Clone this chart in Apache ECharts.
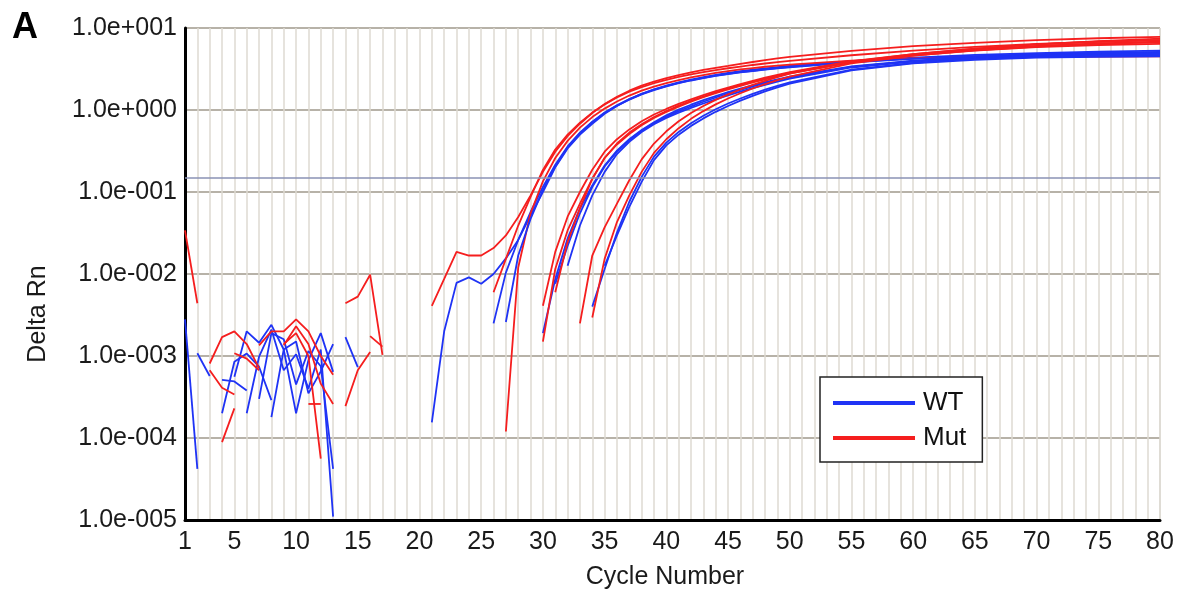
<!DOCTYPE html>
<html lang="en">
<head>
<meta charset="UTF-8">
<title>Amplification plot</title>
<script src="https://cdn.jsdelivr.net/npm/echarts@6/dist/echarts.min.js"></script>
<style>
  html, body { margin: 0; padding: 0; background: #fff; }
  #main { width: 1185px; height: 597px; }
</style>
</head>
<body>
<div id="main"></div>
<script>
// tick labels
var xTickLabels = [1, 5, 10, 15, 20, 25, 30, 35, 40, 45, 50, 55, 60, 65, 70, 75, 80];
var yTickLabels = ['1.0e-005', '1.0e-004', '1.0e-003', '1.0e-002', '1.0e-001', '1.0e+000', '1.0e+001'];
var threshold = 0.148;

// WT amplification curves [cycle, delta Rn]
var wtA1 = [[21,0.000155],[22,0.002],[23,0.0078],[24,0.0091],[25,0.0076],[26,0.010],[27,0.0155],[28,0.026],[29,0.052],[30,0.10],[31,0.2],[32,0.34],[33,0.5],[34,0.68],[35,0.9],[36,1.12],[37,1.35],[38,1.57],[39,1.78],[40,1.98],[41,2.17],[42,2.35],[43,2.52],[44,2.68],[45,2.83],[46,2.97],[47,3.1],[48,3.22],[49,3.34],[50,3.45],[55,3.95],[60,4.35],[65,4.7],[70,4.95],[75,5.15],[80,5.3]];
var wtA2 = [[26,0.0025],[27,0.0104],[28,0.026],[29,0.057],[30,0.115],[31,0.215],[32,0.36],[33,0.53],[34,0.72],[35,0.93],[36,1.14],[37,1.36],[38,1.57],[39,1.77],[40,1.96],[41,2.14],[42,2.31],[43,2.47],[44,2.62],[45,2.76],[46,2.89],[47,3.01],[48,3.13],[49,3.24],[50,3.35],[55,3.85],[60,4.25],[65,4.55],[70,4.8],[75,5.0],[80,5.1]];
var wtA3 = [[27,0.0026],[28,0.0168],[29,0.047],[30,0.105],[31,0.205],[32,0.35],[33,0.52],[34,0.71],[35,0.92],[36,1.13],[37,1.34],[38,1.55],[39,1.75],[40,1.94],[41,2.12],[42,2.29],[43,2.45],[44,2.6],[45,2.74],[46,2.87],[47,2.99],[48,3.11],[49,3.22],[50,3.32],[55,3.8],[60,4.2],[65,4.5],[70,4.72],[75,4.9],[80,5.0]];
var wtB1 = [[30,0.0019],[31,0.0087],[32,0.027],[33,0.063],[34,0.12],[35,0.21],[36,0.32],[37,0.44],[38,0.57],[39,0.71],[40,0.86],[41,1.01],[42,1.16],[43,1.32],[44,1.48],[45,1.65],[46,1.82],[47,2.0],[48,2.18],[49,2.37],[50,2.56],[55,3.4],[60,4.0],[65,4.4],[70,4.65],[75,4.8],[80,4.9]];
var wtB2 = [[31,0.0076],[32,0.022],[33,0.055],[34,0.115],[35,0.205],[36,0.31],[37,0.43],[38,0.56],[39,0.69],[40,0.83],[41,0.97],[42,1.11],[43,1.26],[44,1.42],[45,1.59],[46,1.76],[47,1.94],[48,2.12],[49,2.31],[50,2.5],[55,3.35],[60,3.95],[65,4.35],[70,4.6],[75,4.75],[80,4.85]];
var wtB3 = [[32,0.0126],[33,0.039],[34,0.091],[35,0.176],[36,0.29],[37,0.41],[38,0.54],[39,0.67],[40,0.8],[41,0.93],[42,1.06],[43,1.2],[44,1.35],[45,1.51],[46,1.68],[47,1.85],[48,2.03],[49,2.22],[50,2.42],[55,3.3],[60,3.9],[65,4.3],[70,4.55],[75,4.7],[80,4.8]];
var wtC1 = [[34,0.004],[35,0.0115],[36,0.032],[37,0.076],[38,0.153],[39,0.27],[40,0.4],[41,0.54],[42,0.69],[43,0.85],[44,1.02],[45,1.2],[46,1.38],[47,1.57],[48,1.77],[49,1.97],[50,2.17],[55,3.1],[60,3.75],[65,4.2],[70,4.45],[75,4.6],[80,4.65]];
var wtC2 = [[35,0.0126],[36,0.0295],[37,0.066],[38,0.133],[39,0.245],[40,0.37],[41,0.5],[42,0.64],[43,0.79],[44,0.95],[45,1.12],[46,1.3],[47,1.49],[48,1.69],[49,1.89],[50,2.1],[55,3.05],[60,3.7],[65,4.1],[70,4.35],[75,4.45],[80,4.5]];

// Mut amplification curves
var mutA1 = [[21,0.0041],[22,0.0087],[23,0.0186],[24,0.0168],[25,0.0168],[26,0.0207],[27,0.0295],[28,0.0495],[29,0.091],[30,0.176],[31,0.31],[32,0.48],[33,0.68],[34,0.92],[35,1.18],[36,1.45],[37,1.72],[38,1.98],[39,2.22],[40,2.45],[41,2.67],[42,2.88],[43,3.08],[44,3.27],[45,3.45],[46,3.65],[47,3.85],[48,4.05],[49,4.25],[50,4.45],[55,5.25],[60,6.0],[65,6.6],[70,7.1],[75,7.5],[80,7.8]];
var mutA2 = [[26,0.006],[27,0.0153],[28,0.039],[29,0.087],[30,0.186],[31,0.33],[32,0.5],[33,0.7],[34,0.93],[35,1.17],[36,1.42],[37,1.67],[38,1.9],[39,2.12],[40,2.33],[41,2.53],[42,2.72],[43,2.9],[44,3.07],[45,3.23],[46,3.39],[47,3.54],[48,3.69],[49,3.83],[50,3.97],[55,4.65],[60,5.3],[65,5.9],[70,6.4],[75,6.8],[80,7.1]];
var mutA3 = [[27,0.00012],[28,0.012],[29,0.055],[30,0.135],[31,0.26],[32,0.42],[33,0.61],[34,0.82],[35,1.04],[36,1.27],[37,1.5],[38,1.72],[39,1.93],[40,2.13],[41,2.32],[42,2.5],[43,2.67],[44,2.83],[45,2.98],[46,3.12],[47,3.25],[48,3.37],[49,3.48],[50,3.58],[55,4.0],[60,4.25],[65,4.38],[70,4.44],[75,4.47],[80,4.5]];
var mutB1 = [[30,0.0041],[31,0.0186],[32,0.05],[33,0.1],[34,0.187],[35,0.31],[36,0.44],[37,0.58],[38,0.73],[39,0.88],[40,1.03],[41,1.19],[42,1.35],[43,1.52],[44,1.7],[45,1.88],[46,2.07],[47,2.27],[48,2.48],[49,2.69],[50,2.9],[55,3.95],[60,4.8],[65,5.6],[70,6.3],[75,6.9],[80,7.4]];
var mutB2 = [[30,0.0015],[31,0.0115],[32,0.034],[33,0.072],[34,0.145],[35,0.26],[36,0.39],[37,0.53],[38,0.67],[39,0.82],[40,0.97],[41,1.13],[42,1.29],[43,1.46],[44,1.64],[45,1.82],[46,2.01],[47,2.21],[48,2.41],[49,2.62],[50,2.83],[55,3.85],[60,4.7],[65,5.45],[70,6.05],[75,6.5],[80,6.8]];
var mutB3 = [[31,0.006],[32,0.0245],[33,0.063],[34,0.145],[35,0.26],[36,0.38],[37,0.51],[38,0.65],[39,0.8],[40,0.95],[41,1.1],[42,1.26],[43,1.43],[44,1.6],[45,1.78],[46,1.97],[47,2.17],[48,2.37],[49,2.58],[50,2.79],[55,3.8],[60,4.6],[65,5.3],[70,5.85],[75,6.2],[80,6.4]];
var mutC1 = [[33,0.0025],[34,0.0168],[35,0.037],[36,0.072],[37,0.139],[38,0.25],[39,0.39],[40,0.55],[41,0.73],[42,0.92],[43,1.12],[44,1.33],[45,1.55],[46,1.78],[47,2.02],[48,2.27],[49,2.52],[50,2.78],[55,3.9],[60,4.8],[65,5.6],[70,6.3],[75,6.8],[80,7.1]];
var mutC2 = [[34,0.00295],[35,0.0153],[36,0.043],[37,0.091],[38,0.176],[39,0.3],[40,0.44],[41,0.6],[42,0.78],[43,0.97],[44,1.17],[45,1.38],[46,1.6],[47,1.83],[48,2.07],[49,2.31],[50,2.56],[55,3.7],[60,4.6],[65,5.35],[70,5.95],[75,6.4],[80,6.7]];

// early-cycle noise pieces (gaps = negative values not shown on log axis)
var wtNoise = [
  [[1,0.0028],[2,0.000042]],
  [[2,0.00108],[3,0.00057]],
  [[4,0.0002],[5,0.00085],[6,0.00107],[7,0.00074],[8,0.00029]],
  [[4,0.00051],[5,0.00049],[6,0.00038]],
  [[5,0.00056],[6,0.002],[7,0.00145],[8,0.0024],[9,0.0012],[10,0.0002],[11,0.00089],[12,0.0019],[13,0.00064]],
  [[6,0.0002],[7,0.00098],[8,0.0021],[9,0.00067],[10,0.00105],[11,0.0004],[12,0.0012],[13,0.000011]],
  [[7,0.0003],[8,0.0019],[9,0.0016],[10,0.00045],[11,0.00115],[12,0.00075],[13,0.000042]],
  [[8,0.00018],[9,0.0012],[10,0.0015],[11,0.00035],[12,0.00065],[13,0.0014]],
  [[14,0.0017],[15,0.00073]]
];
var mutNoise = [
  [[1,0.034],[2,0.0044]],
  [[3,0.00081],[4,0.0017],[5,0.002],[6,0.0014],[7,0.00071]],
  [[3,0.00067],[4,0.00041],[5,0.00034]],
  [[4,0.000089],[5,0.00023]],
  [[5,0.00108],[6,0.00093],[7,0.00067]],
  [[7,0.00135],[8,0.002],[9,0.002],[10,0.0028],[11,0.002],[12,0.001],[13,0.00059]],
  [[9,0.00135],[10,0.0023],[11,0.0014],[12,0.00046],[13,0.00026]],
  [[9,0.0014],[10,0.0019],[11,0.001],[12,0.000056]],
  [[11,0.00026],[12,0.00026]],
  [[14,0.0044],[15,0.0053],[16,0.0098],[17,0.00103]],
  [[16,0.00175],[17,0.0013]],
  [[14,0.000245],[15,0.00067],[16,0.00112]]
];

var wtCurves = [wtA1, wtA2, wtA3, wtB1, wtB2, wtB3, wtC1, wtC2];
var mutCurves = [mutA1, mutA2, mutA3, mutB1, mutB2, mutB3, mutC1, mutC2];

var blue = '#1f33f5';
var red = '#f51e1e';
var font = 'Liberation Sans, Arial, sans-serif';

function lineSeries(name, color, data) {
    return {
        name: name,
        type: 'line',
        data: data,
        symbol: 'none',
        showSymbol: false,
        silent: true,
        lineStyle: { color: color, width: 1.8 },
        itemStyle: { color: color },
        z: 3
    };
}

var series = [];
wtNoise.forEach(function (d) { series.push(lineSeries('WT', blue, d)); });
mutNoise.forEach(function (d) { series.push(lineSeries('Mut', red, d)); });
for (var i = 0; i < wtCurves.length; i++) {
    series.push(lineSeries('Mut', red, mutCurves[i]));
    series.push(lineSeries('WT', blue, wtCurves[i]));
}
// threshold line
series[0].markLine = {
    silent: true,
    symbol: 'none',
    label: { show: false },
    lineStyle: { color: '#8a92b4', width: 1.5, type: 'solid' },
    data: [{ yAxis: threshold }]
};

var myChart = echarts.init(document.getElementById('main'));
var option = {
    animation: false,
    backgroundColor: '#fff',
    textStyle: { fontFamily: font },
    grid: {
        left: 185, right: 25, top: 28, bottom: 77,
        show: true, borderColor: '#c9c5bc', borderWidth: 1
    },
    legend: {
        data: ['WT', 'Mut'],
        orient: 'vertical',
        left: 820, top: 377,
        padding: [13, 16, 11, 13],
        itemGap: 9,
        itemWidth: 82, itemHeight: 4,
        icon: 'rect',
        borderColor: '#222', borderWidth: 1.5,
        backgroundColor: '#fff',
        selectedMode: false,
        textStyle: { fontSize: 26, color: '#111', fontFamily: font, padding: [0, 0, 0, 3] }
    },
    xAxis: {
        type: 'value',
        min: 1, max: 80, interval: 1,
        axisLine: { lineStyle: { color: '#000', width: 3 } },
        axisTick: { show: false },
        axisLabel: {
            fontSize: 25, color: '#1a1a1a', margin: 10,
            formatter: function (v) { return xTickLabels.indexOf(v) >= 0 ? String(v) : ''; }
        },
        splitLine: { show: true, lineStyle: { color: '#dedad2', width: 1.5 } }
    },
    yAxis: {
        type: 'log',
        logBase: 10,
        min: 0.00001, max: 10,
        splitNumber: 6,
        axisLine: { show: true, lineStyle: { color: '#000', width: 3 } },
        axisTick: { show: false },
        axisLabel: {
            fontSize: 25, color: '#1a1a1a', margin: 8,
            formatter: function (v) {
                var e = Math.round(Math.log10(v));
                return yTickLabels[e + 5] || '';
            }
        },
        splitLine: { show: true, lineStyle: { color: '#b7b2a8', width: 2 } }
    },
    graphic: [
        { type: 'text', left: 12, top: 10, style: { text: 'A', font: 'bold 36px ' + font, fill: '#000' } },
        { type: 'text', x: 38, y: 314, rotation: Math.PI / 2,
          style: { text: 'Delta Rn', font: '25px ' + font, fill: '#1a1a1a', align: 'center', verticalAlign: 'middle' } },
        { type: 'text', x: 665, y: 577,
          style: { text: 'Cycle Number', font: '25px ' + font, fill: '#1a1a1a', align: 'center', verticalAlign: 'middle' } }
    ],
    series: series
};
myChart.setOption(option);
</script>
</body>
</html>
